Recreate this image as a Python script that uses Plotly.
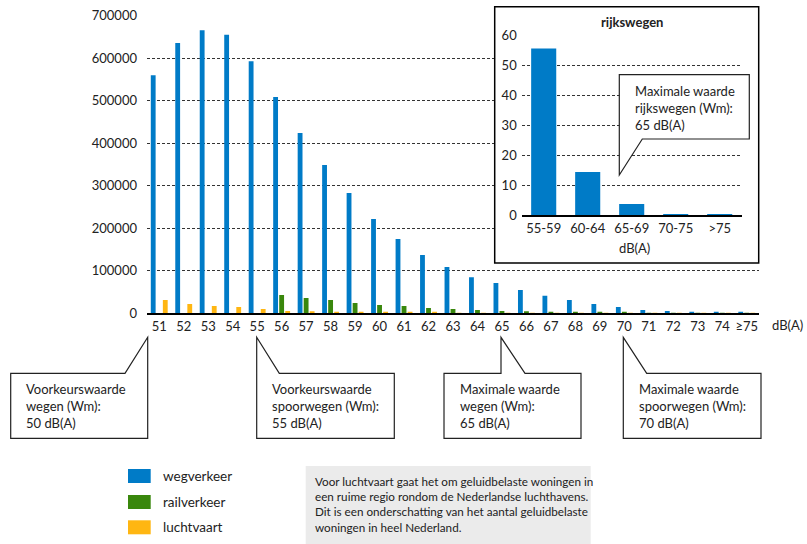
import plotly.graph_objects as go

# === Data ===
categories = ["51", "52", "53", "54", "55", "56", "57", "58", "59", "60", "61", "62", "63",
              "64", "65", "66", "67", "68", "69", "70", "71", "72", "73", "74", "≥75"]
wegverkeer = [560000, 636000, 666000, 655000, 593000, 509000, 424000, 349000, 283000, 222000,
              175000, 137000, 109000, 85000, 71000, 55000, 41000, 31000, 22000, 15000,
              8000, 5500, 3000, 1500, 1500]
railverkeer = [0, 0, 0, 0, 0, 43000, 36000, 31000, 24000, 19500,
               17000, 12500, 10000, 8000, 5500, 5000, 3500, 3000, 2500, 1500,
               1200, 1000, 1000, 800, 800]
luchtvaart = [31000, 22000, 17000, 15000, 10000, 5500, 5000, 2500, 2000, 1800,
              1600, 1500, 1400, 1300, 1200, 1100, 1000, 1000, 900, 800,
              700, 600, 500, 500, 500]

inset_categories = ["55-59", "60-64", "65-69", "70-75", ">75"]
rijkswegen = [55.5, 14.3, 3.7, 0.3, 0.05]

y_ticks = [0, 100000, 200000, 300000, 400000, 500000, 600000, 700000]
inset_ticks = [0, 10, 20, 30, 40, 50, 60]

BLUE = "#007bc7"
GREEN = "#39870c"
ORANGE = "#ffb612"
FONT = "Lato"
TXT = "#222222"

W, H = 807, 544


def px(x, y):
    # pixel position -> paper coordinates
    return x / W, 1 - y / H


def path(points):
    pts = [px(x, y) for x, y in points]
    return "M " + " L ".join(f"{a:.5f},{b:.5f}" for a, b in pts) + " Z"


fig = go.Figure()

# === Main bars ===
for name, vals, col in [("wegverkeer", wegverkeer, BLUE),
                        ("railverkeer", railverkeer, GREEN),
                        ("luchtvaart", luchtvaart, ORANGE)]:
    fig.add_trace(go.Bar(x=categories, y=vals, name=name, marker_color=col,
                         marker_line_width=0, xaxis="x", yaxis="y"))

# === Inset background subplot (covers main gridlines) ===
fig.add_trace(go.Scatter(x=[None], y=[None], xaxis="x2", yaxis="y2",
                         showlegend=False, hoverinfo="skip"))

# === Inset bars ===
fig.add_trace(go.Bar(x=inset_categories, y=rijkswegen, marker_color=BLUE,
                     marker_line_width=0, width=0.57, xaxis="x3", yaxis="y3",
                     showlegend=False))

dot = "3px,2px"
x0, x1 = px(147, 0)[0], px(759, 0)[0]
fig.update_layout(
    width=W, height=H, autosize=False,
    margin=dict(l=0, r=0, t=0, b=0, autoexpand=False),
    paper_bgcolor="white", plot_bgcolor="white",
    showlegend=False,
    barmode="group", bargap=0.26, bargroupgap=0.2,
    font=dict(family=FONT, size=13, color=TXT),
    xaxis=dict(domain=[x0, x1], type="category", showline=True, linecolor="black",
               linewidth=2, ticks="", showgrid=False, tickfont=dict(size=13),
               anchor="y", automargin=False),
    yaxis=dict(domain=[px(0, 313.3)[1], px(0, 15.7)[1]], range=[0, 700000],
               tickvals=y_ticks, tickformat="d", showgrid=True, gridcolor="#333333",
               gridwidth=1, griddash=dot, zeroline=False, showline=False,
               ticklabelstandoff=9, anchor="x", tickfont=dict(size=13), automargin=False),
    xaxis2=dict(domain=[px(494.7, 0)[0], px(758.7, 0)[0]], anchor="y2", visible=False,
                automargin=False),
    yaxis2=dict(domain=[px(0, 263)[1], px(0, 6.7)[1]], anchor="x2", visible=False,
                automargin=False),
    xaxis3=dict(domain=[px(521.7, 0)[0], px(741.7, 0)[0]], anchor="y3", type="category",
                showline=True, linecolor="black", linewidth=1.5, ticks="", showgrid=False,
                tickfont=dict(size=13), ticklabelstandoff=1, automargin=False),
    yaxis3=dict(domain=[px(0, 215)[1], px(0, 35)[1]], anchor="x3", range=[0, 60],
                tickvals=inset_ticks, showgrid=True, gridcolor="#333333", gridwidth=1,
                griddash=dot, zeroline=False, showline=False, ticklabelstandoff=4,
                tickfont=dict(size=13), automargin=False),
)

shapes = []
annotations = []

# inset border
bx0, by1 = px(494.7, 6.7)
bx1, by0 = px(758.7, 263)
shapes.append(dict(type="rect", xref="paper", yref="paper", x0=bx0, y0=by0, x1=bx1, y1=by1,
                   line=dict(color="black", width=1.5), fillcolor="rgba(0,0,0,0)", layer="above"))

callout_line = dict(color="#222222", width=1.2)

# inset callout
shapes.append(dict(type="path", xref="paper", yref="paper", layer="above",
                   path=path([(619.3, 74.7), (749.3, 74.7), (749.3, 139), (642.3, 139), (619.3, 175)]),
                   fillcolor="white", line=callout_line))

# main callouts
shapes.append(dict(type="path", xref="paper", yref="paper", layer="above",
                   path=path([(10.7, 373.3), (125, 373.3), (147.7, 337.3), (147.7, 438.3), (10.7, 438.3)]),
                   fillcolor="white", line=callout_line))
shapes.append(dict(type="path", xref="paper", yref="paper", layer="above",
                   path=path([(256.7, 337.3), (279.3, 373.3), (394.3, 373.3), (394.3, 438.3), (256.7, 438.3)]),
                   fillcolor="white", line=callout_line))
shapes.append(dict(type="path", xref="paper", yref="paper", layer="above",
                   path=path([(444, 373.3), (501, 373.3), (501, 337.3), (525, 373.3), (581, 373.3),
                              (581, 438.3), (444, 438.3)]),
                   fillcolor="white", line=callout_line))
shapes.append(dict(type="path", xref="paper", yref="paper", layer="above",
                   path=path([(623.3, 337.3), (646.7, 373.3), (761, 373.3), (761, 438.3), (623.3, 438.3)]),
                   fillcolor="white", line=callout_line))

# note box
nx0, ny1 = px(305.7, 466)
nx1, ny0 = px(590.7, 544)
shapes.append(dict(type="rect", xref="paper", yref="paper", x0=nx0, y0=ny0, x1=nx1, y1=ny1,
                   line=dict(width=0), fillcolor="#ebebeb", layer="above"))

# legend swatches
legend_items = [("wegverkeer", BLUE, 476), ("railverkeer", GREEN, 502), ("luchtvaart", ORANGE, 527.3)]
for label, col, yc in legend_items:
    sx0, sy1 = px(128, yc - 7)
    sx1, sy0 = px(150.7, yc + 7)
    shapes.append(dict(type="rect", xref="paper", yref="paper", x0=sx0, y0=sy0, x1=sx1, y1=sy1,
                       line=dict(width=0), fillcolor=col, layer="above"))
    ax, ay = px(161, yc)
    annotations.append(dict(x=ax, y=ay, xref="paper", yref="paper", text=label, showarrow=False,
                            xanchor="left", yanchor="middle", font=dict(size=13.5)))


def note(x, y, text, size=13):
    ax, ay = px(x, y)
    annotations.append(dict(x=ax, y=ay, xref="paper", yref="paper", text=text, showarrow=False,
                            xanchor="left", yanchor="top", align="left", font=dict(size=size)))


note(24, 379, "Voorkeurswaarde<br>wegen (Wm):<br>50 dB(A)")
note(270, 379, "Voorkeurswaarde<br>spoorwegen (Wm):<br>55 dB(A)")
note(457.7, 379, "Maximale waarde<br>wegen (Wm):<br>65 dB(A)")
note(637.3, 379, "Maximale waarde<br>spoorwegen (Wm):<br>70 dB(A)")
note(632.7, 81, "Maximale waarde<br>rijkswegen (Wm):<br>65 dB(A)")
note(313.3, 471.5, "Voor luchtvaart gaat het om geluidbelaste woningen in<br>"
                   "een ruime regio rondom de Nederlandse luchthavens.<br>"
                   "Dit is een onderschatting van het aantal geluidbelaste<br>"
                   "woningen in heel Nederland.", size=11.7)

# axis titles / inset title
tx, ty = px(805, 325)
annotations.append(dict(x=tx, y=ty, xref="paper", yref="paper", text="dB(A)", showarrow=False,
                        xanchor="right", yanchor="middle", font=dict(size=13)))
tx, ty = px(634, 248)
annotations.append(dict(x=tx, y=ty, xref="paper", yref="paper", text="dB(A)", showarrow=False,
                        xanchor="center", yanchor="middle", font=dict(size=13)))
tx, ty = px(631.7, 21.7)
annotations.append(dict(x=tx, y=ty, xref="paper", yref="paper", text="<b>rijkswegen</b>",
                        showarrow=False, xanchor="center", yanchor="middle", font=dict(size=13)))

fig.update_layout(shapes=shapes, annotations=annotations)

fig.write_html("out.html", config={"displayModeBar": False},
               post_script="document.body.style.margin='0';document.body.style.overflow='hidden';")
